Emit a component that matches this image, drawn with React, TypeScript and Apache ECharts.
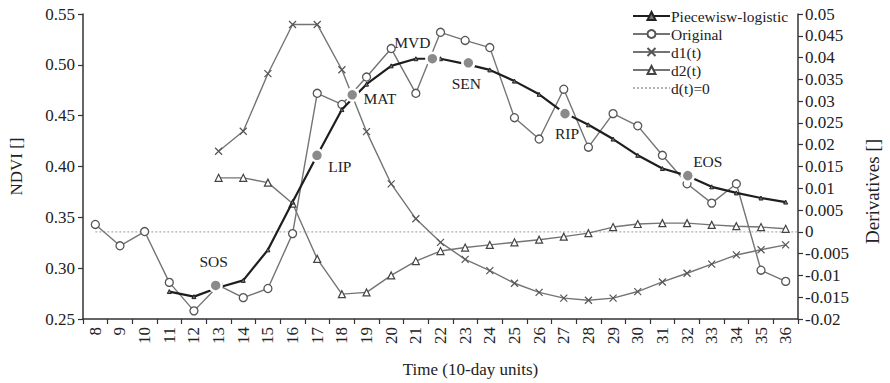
import React, { useEffect, useRef } from "react";
import * as echarts from "echarts";

const categories = ["8","9","10","11","12","13","14","15","16","17","18","19","20","21","22","23","24","25","26","27","28","29","30","31","32","33","34","35","36"];

// Original NDVI (8..36)
const originalNDVI = [0.343,0.322,0.336,0.286,0.258,0.283,0.271,0.280,0.334,0.472,0.461,0.488,0.516,0.472,0.532,0.524,0.517,0.448,0.427,0.476,0.419,0.452,0.440,0.411,0.383,0.364,0.383,0.298,0.287];
// Piecewise-logistic fit (11..36)
const logisticStart = 11;
const logisticNDVI = [0.277,0.272,0.281,0.288,0.318,0.365,0.411,0.456,0.481,0.499,0.506,0.506,0.501,0.495,0.484,0.471,0.453,0.441,0.427,0.411,0.398,0.391,0.380,0.374,0.369,0.365];
// Derivatives (13..36)
const derivStart = 13;
const d1 = [0.0185,0.0231,0.0363,0.0476,0.0476,0.0372,0.023,0.011,0.003,-0.0024,-0.0063,-0.0089,-0.0118,-0.0139,-0.0152,-0.0157,-0.0152,-0.0137,-0.0115,-0.0095,-0.0074,-0.0053,-0.0041,-0.003];
const d2 = [0.0124,0.0124,0.0113,0.0065,-0.0062,-0.0143,-0.0139,-0.01,-0.0067,-0.0044,-0.0036,-0.003,-0.0024,-0.0018,-0.0011,-0.0003,0.0011,0.0018,0.002,0.002,0.0016,0.0013,0.0011,0.0007];
// Phenology points
const phenoNames = ["SOS","LIP","MAT","MVD","SEN","RIP","EOS"];
const phenoTime = [12.88,16.99,18.42,21.67,23.13,27.05,32.03];
const phenoNDVI = [0.283,0.411,0.4705,0.506,0.502,0.452,0.391];
const zeroLine = [[8,0],[36.5,0]];

const leftTicks = { min: 0.25, max: 0.55, interval: 0.05 };
const rightTicks = { min: -0.02, max: 0.05, interval: 0.005 };

const FONT = "'Liberation Serif', 'Times New Roman', serif";

export default function App() {
  const ref = useRef<HTMLDivElement>(null);
  useEffect(() => {
    if (!ref.current) return;
    const chart = echarts.init(ref.current, null, { renderer: "svg" });
    const catNums = categories.map((c) => Number(c));
    const origData = originalNDVI.map((v, i) => [catNums[i], v]);
    const logData = logisticNDVI.map((v, i) => [logisticStart + i, v]);
    const d1Data = d1.map((v, i) => [derivStart + i, v]);
    const d2Data = d2.map((v, i) => [derivStart + i, v]);
    const labelCfg: any[] = [
      { position: "top", distance: 9, offset: [-2, 0] },
      { position: "right", distance: 4, offset: [0, 11] },
      { position: "right", distance: 4, offset: [0, 4] },
      { position: "top", distance: 1, offset: [-20, 0] },
      { position: "bottom", distance: 5, offset: [-2, 0] },
      { position: "bottom", distance: 5, offset: [2, 0] },
      { position: "top", distance: 0, offset: [20, 1] },
    ];
    const phenoData = phenoNames.map((n, i) => ({
      name: n,
      value: [phenoTime[i], phenoNDVI[i]],
      label: { show: true, formatter: n, ...labelCfg[i] },
    }));
    const axisLine = { show: true, onZero: false, lineStyle: { color: "#333", width: 1.5 } };
    const axisTick = { show: true, length: 5, lineStyle: { color: "#333", width: 1.2 } };
    const labelStyle = { color: "#222", fontFamily: FONT, fontSize: 17 };
    const grey = "#747474";
    chart.setOption({
      animation: false,
      backgroundColor: "#fff",
      textStyle: { fontFamily: FONT },
      grid: { left: 80, right: 82, top: 14, bottom: 56, containLabel: false },
      legend: {
        orient: "vertical",
        left: 627,
        top: 3,
        itemWidth: 37,
        itemHeight: 10,
        itemGap: 2,
        textStyle: { fontFamily: FONT, fontSize: 15.5, color: "#222", padding: [0, 0, 0, -4] },
        data: [
          "Piecewisw-logistic",
          "Original",
          "d1(t)",
          "d2(t)",
          { name: "d(t)=0", itemStyle: { opacity: 0 } },
        ],
      },
      xAxis: [
        {
          type: "category",
          data: categories,
          boundaryGap: true,
          axisLine,
          axisTick: { ...axisTick, alignWithLabel: false },
          axisLabel: { ...labelStyle, rotate: 90, margin: 8, interval: 0 },
          name: "Time (10-day units)",
          nameLocation: "middle",
          nameGap: 42,
          nameTextStyle: { ...labelStyle, padding: [0, 0, 0, 60] },
          splitLine: { show: false },
        },
        { type: "value", min: 7.5, max: 36.5, show: false, axisLine: { onZero: false } },
      ],
      yAxis: [
        {
          type: "value",
          ...leftTicks,
          axisLine,
          axisTick,
          axisLabel: { ...labelStyle, margin: 8, formatter: (v: number) => v.toFixed(2) },
          splitLine: { show: false },
          name: "NDVI []",
          nameLocation: "middle",
          nameGap: 58,
          nameRotate: 90,
          nameTextStyle: { ...labelStyle },
        },
        {
          type: "value",
          ...rightTicks,
          position: "right",
          axisLine,
          axisTick,
          axisLabel: {
            ...labelStyle,
            margin: 7,
            formatter: (v: number) => String(parseFloat(v.toFixed(3))),
          },
          splitLine: { show: false },
          name: "Derivatives []",
          nameLocation: "middle",
          nameGap: 65,
          nameRotate: 90,
          nameTextStyle: { ...labelStyle, fontSize: 19, padding: [0, 50, 0, 0] },
        },
      ],
      series: [
        {
          name: "d(t)=0",
          type: "line",
          xAxisIndex: 1,
          yAxisIndex: 1,
          data: zeroLine,
          symbol: "none",
          lineStyle: { color: "#b0b0b0", width: 1.2, type: [2, 2] },
          itemStyle: { color: "#b0b0b0" },
          z: 1,
        },
        {
          name: "d2(t)",
          type: "line",
          xAxisIndex: 1,
          yAxisIndex: 1,
          data: d2Data,
          symbol: "triangle",
          symbolSize: 7,
          lineStyle: { color: grey, width: 1.4 },
          itemStyle: { color: "#fff", borderColor: "#444", borderWidth: 1.2 },
          z: 2,
        },
        {
          name: "d1(t)",
          type: "line",
          xAxisIndex: 1,
          yAxisIndex: 1,
          data: d1Data,
          symbol: "path://M0,0L10,10M10,0L0,10",
          symbolSize: 7,
          lineStyle: { color: grey, width: 1.4 },
          itemStyle: { color: "none", borderColor: "#555", borderWidth: 1.2 },
          z: 2,
        },
        {
          name: "Original",
          type: "line",
          xAxisIndex: 1,
          yAxisIndex: 0,
          data: origData,
          symbol: "circle",
          symbolSize: 8,
          lineStyle: { color: grey, width: 1.4 },
          itemStyle: { color: "#fff", borderColor: "#555", borderWidth: 1.3 },
          z: 3,
        },
        {
          name: "Piecewisw-logistic",
          type: "line",
          xAxisIndex: 1,
          yAxisIndex: 0,
          data: logData,
          symbol: "triangle",
          symbolSize: 4,
          lineStyle: { color: "#1e1e1e", width: 2.2 },
          itemStyle: { color: "#777", borderColor: "#222", borderWidth: 1 },
          z: 4,
        },
        {
          name: "pheno",
          type: "scatter",
          xAxisIndex: 1,
          yAxisIndex: 0,
          data: phenoData,
          symbol: "circle",
          symbolSize: 12,
          itemStyle: { color: "#8a8a8a", borderColor: "#fff", borderWidth: 2.5, opacity: 1 },
          label: { color: "#222", fontFamily: FONT, fontSize: 15.5 },
          z: 6,
        },
      ],
    });
    return () => chart.dispose();
  }, []);
  return <div ref={ref} style={{ width: 890, height: 383, position: "absolute", left: 0, top: 0 }} />;
}
